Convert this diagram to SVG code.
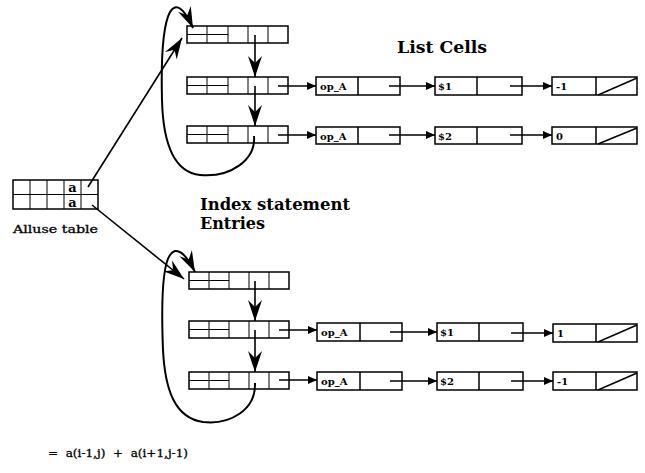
<svg xmlns="http://www.w3.org/2000/svg" width="645" height="473" viewBox="0 0 645 473">
<style>
.bx{fill:none;stroke:#000;stroke-width:1.5}
.thin{fill:none;stroke:#000;stroke-width:1}
.ln{fill:none;stroke:#000;stroke-width:1.6}
.cv{fill:none;stroke:#000;stroke-width:2}
.hd{font-family:"DejaVu Serif","Liberation Serif",serif;font-weight:bold;fill:#000}
.ct{font-family:"DejaVu Serif","Liberation Serif",serif;font-weight:bold;font-size:10px;fill:#000}
.lb{font-family:"DejaVu Serif","Liberation Serif",serif;font-size:11px;fill:#000;stroke:#000;stroke-width:0.3}
</style>
<defs>
<marker id="sm" markerUnits="userSpaceOnUse" markerWidth="10" markerHeight="9" refX="9" refY="4.5" orient="auto"><path d="M0,0.5 L9,4.5 L0,8.5 Z" fill="#000"/></marker>
<marker id="big" markerUnits="userSpaceOnUse" markerWidth="22" markerHeight="14" refX="21" refY="7" orient="auto"><path d="M0,0 L21,7 L0,14 L7,7 Z" fill="#000"/></marker>
</defs>

<g id="alluse">
<rect class="bx" x="13" y="180" width="85" height="29"/>
<path class="thin" d="M13,194.5 H98 M30,180 V209 M47,180 V209 M64,180 V209 M81,180 V209"/>
<text class="hd" x="72.5" y="192" font-size="13" text-anchor="middle">a</text>
<text class="hd" x="72.5" y="207" font-size="13" text-anchor="middle">a</text>
<text class="lb" x="13" y="233" textLength="85" lengthAdjust="spacingAndGlyphs">Alluse table</text>
</g>

<g id="title-list">
<text class="hd" x="397" y="53" font-size="16" textLength="90" lengthAdjust="spacingAndGlyphs">List Cells</text>
</g>
<g id="title-index">
<text class="hd" x="200" y="210" font-size="16" textLength="150" lengthAdjust="spacingAndGlyphs">Index statement</text>
<text class="hd" x="200" y="229" font-size="16" textLength="65" lengthAdjust="spacingAndGlyphs">Entries</text>
</g>

<g id="entries-top">
<rect class="bx" x="187" y="26" width="101" height="17"/>
<path class="thin" d="M187,34.5 H228 M207,26 V43 M228,26 V43 M248,26 V43 M268,26 V43"/>
<rect class="bx" x="187" y="77" width="101" height="17"/>
<path class="thin" d="M187,85.5 H228 M207,77 V94 M228,77 V94 M248,77 V94 M268,77 V94"/>
<rect class="bx" x="187" y="126" width="101" height="17"/>
<path class="thin" d="M187,134.5 H228 M207,126 V143 M228,126 V143 M248,126 V143 M268,126 V143"/>
</g>

<g id="entries-bottom">
<rect class="bx" x="189" y="272" width="100" height="17"/>
<path class="thin" d="M189,280.5 H229 M209,272 V289 M229,272 V289 M249,272 V289 M269,272 V289"/>
<rect class="bx" x="189" y="321" width="100" height="17"/>
<path class="thin" d="M189,329.5 H229 M209,321 V338 M229,321 V338 M249,321 V338 M269,321 V338"/>
<rect class="bx" x="189" y="372" width="100" height="17"/>
<path class="thin" d="M189,380.5 H229 M209,372 V389 M229,372 V389 M249,372 V389 M269,372 V389"/>
</g>

<g id="cells-top-1">
<rect class="bx" x="316" y="77" width="84" height="18"/><path class="bx" d="M358,77 V95"/>
<text class="ct" x="320" y="90">op_A</text>
<rect class="bx" x="435" y="77" width="87" height="18"/><path class="bx" d="M477,77 V95"/>
<text class="ct" x="438" y="90">$1</text>
<rect class="bx" x="552" y="77" width="85" height="18"/><path class="bx" d="M596,77 V95 M598,95 L637,78"/>
<text class="ct" x="556" y="90">-1</text>
</g>
<g id="cells-top-2">
<rect class="bx" x="316" y="127" width="84" height="17"/><path class="bx" d="M358,127 V144"/>
<text class="ct" x="320" y="139.5">op_A</text>
<rect class="bx" x="435" y="127" width="87" height="17"/><path class="bx" d="M477,127 V144"/>
<text class="ct" x="438" y="139.5">$2</text>
<rect class="bx" x="552" y="127" width="85" height="17"/><path class="bx" d="M596,127 V144 M598,144 L637,128"/>
<text class="ct" x="556" y="139.5">0</text>
</g>
<g id="cells-bottom-1">
<rect class="bx" x="317" y="323" width="85" height="18"/><path class="bx" d="M360,323 V341"/>
<text class="ct" x="321" y="336">op_A</text>
<rect class="bx" x="437" y="323" width="86" height="18"/><path class="bx" d="M479,323 V341"/>
<text class="ct" x="440" y="336">$1</text>
<rect class="bx" x="553" y="324" width="84" height="18"/><path class="bx" d="M596,324 V342 M598,342 L637,325"/>
<text class="ct" x="557" y="337">1</text>
</g>
<g id="cells-bottom-2">
<rect class="bx" x="317" y="372" width="85" height="18"/><path class="bx" d="M360,372 V390"/>
<text class="ct" x="321" y="385">op_A</text>
<rect class="bx" x="437" y="372" width="86" height="18"/><path class="bx" d="M479,372 V390"/>
<text class="ct" x="440" y="385">$2</text>
<rect class="bx" x="553" y="372" width="84" height="18"/><path class="bx" d="M596,372 V390 M598,390 L637,373"/>
<text class="ct" x="557" y="385">-1</text>
</g>

<g id="formula">
<text class="lb" x="48" y="457" textLength="140" lengthAdjust="spacingAndGlyphs" xml:space="preserve">=  a(i-1,j)  +  a(i+1,j-1)</text>
</g>

<g id="connectors">
<path class="ln" d="M88,187 L182,38" marker-end="url(#big)"/>
<path class="ln" d="M92,205 L184,279" marker-end="url(#big)"/>
<path class="ln" d="M255,35 V77" marker-end="url(#big)"/>
<path class="ln" d="M255,86 V126" marker-end="url(#big)"/>
<path class="ln" d="M255,281 V321" marker-end="url(#big)"/>
<path class="ln" d="M255,330 V372" marker-end="url(#big)"/>
<path class="cv" d="M254,136 C256,160 230,178 200,175 C172,172 163,140 162,100 C161,60 163,25 170,12 C176,2 184,8 193,28" marker-end="url(#big)"/>
<path class="cv" d="M255,383 C256,410 230,425 203,422 C175,418 165,390 163,350 C161,300 163,265 170,255 C176,246 185,252 195,272" marker-end="url(#big)"/>
<path class="ln" d="M278,86 H316" marker-end="url(#sm)"/>
<path class="ln" d="M278,135 H316" marker-end="url(#sm)"/>
<path class="ln" d="M389,86 H435" marker-end="url(#sm)"/>
<path class="ln" d="M389,135 H435" marker-end="url(#sm)"/>
<path class="ln" d="M510,86 H552" marker-end="url(#sm)"/>
<path class="ln" d="M510,135 H552" marker-end="url(#sm)"/>
<path class="ln" d="M279,330 H317" marker-end="url(#sm)"/>
<path class="ln" d="M279,380 H317" marker-end="url(#sm)"/>
<path class="ln" d="M390,332 H437" marker-end="url(#sm)"/>
<path class="ln" d="M390,381 H437" marker-end="url(#sm)"/>
<path class="ln" d="M511,333 H553" marker-end="url(#sm)"/>
<path class="ln" d="M511,381 H553" marker-end="url(#sm)"/>
</g>
</svg>
